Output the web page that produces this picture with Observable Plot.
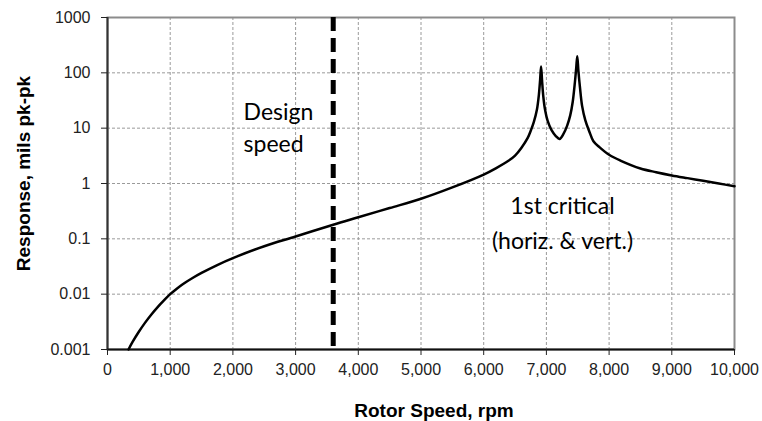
<!DOCTYPE html>
<html>
<head>
<meta charset="utf-8">
<script src="https://cdn.jsdelivr.net/npm/d3@7"></script>
<script src="https://cdn.jsdelivr.net/npm/@observablehq/plot@0.6"></script>
<style>
  html, body { margin: 0; padding: 0; background: #fff; }
  #chart { width: 762px; height: 421px; }
</style>
</head>
<body>
<div id="chart"></div>
<script>
// Rotor speed (rpm) and response (mils pk-pk)
const rpm = [335, 400, 500, 600, 700, 800, 900, 1000, 1100, 1200, 1350, 1500, 1750, 2000, 2500, 3000, 3600, 4000, 4500, 5000, 5500, 6000, 6200, 6400, 6500, 6600, 6700, 6750, 6800, 6850, 6880, 6900, 6915, 6930, 6950, 6980, 7020, 7080, 7150, 7210, 7270, 7330, 7380, 7420, 7450, 7475, 7492, 7510, 7535, 7570, 7620, 7680, 7750, 7850, 8000, 8180, 8500, 8750, 9000, 9250, 9500, 9750, 10000];
const response = [0.001, 0.00137, 0.00209, 0.00306, 0.0043, 0.00585, 0.0077, 0.01, 0.01245, 0.01514, 0.0194, 0.0242, 0.0336, 0.0448, 0.0735, 0.11, 0.18, 0.245, 0.36, 0.53, 0.85, 1.45, 1.9, 2.6, 3.2, 4.4, 6.6, 9.0, 13, 22, 40, 75, 130, 75, 38, 21, 13.5, 9.3, 7.2, 6.4, 7.8, 11, 17, 30, 60, 120, 200, 110, 55, 25, 14, 9, 5.8, 4.5, 3.3, 2.6, 1.87, 1.6, 1.4, 1.25, 1.12, 1.0, 0.89];

const xTicks = [0, 1000, 2000, 3000, 4000, 5000, 6000, 7000, 8000, 9000, 10000];
const yTicks = [0.001, 0.01, 0.1, 1, 10, 100, 1000];
const designSpeed = [3600];

const noteLeftText = ["Design\nspeed"];
const noteLeftRpm = [2170];
const noteLeftResp = [11];
const noteMidText = ["1st critical\n(horiz. & vert.)"];
const noteMidRpm = [7257];
const noteMidResp = [0.215];

const xLabel = "Rotor Speed, rpm";
const yLabel = "Response, mils pk-pk";

const chart = Plot.plot({
  width: 762,
  height: 421,
  marginLeft: 107,
  marginRight: 28,
  marginTop: 17,
  marginBottom: 72,
  style: { fontFamily: "'Liberation Sans', Arial, sans-serif", fontSize: "16px", color: "#222", background: "#fff" },
  x: { domain: [0, 10000] },
  y: { type: "log", domain: [0.001, 1000] },
  marks: [
    Plot.gridX(xTicks, { stroke: "#9a9a9a", strokeOpacity: 1, strokeDasharray: "3,2" }),
    Plot.gridY(yTicks, { stroke: "#9a9a9a", strokeOpacity: 1, strokeDasharray: "3,2" }),
    Plot.frame({ stroke: "#8c8c8c", strokeWidth: 2 }),
    Plot.ruleX([0], { stroke: "#333", strokeWidth: 2 }),
    Plot.ruleY([0.001], { stroke: "#111", strokeWidth: 2 }),
    Plot.axisX(xTicks, { tickFormat: d3.format(","), tickSize: 6, tickPadding: 8, label: null, stroke: "#222", fontSize: 16 }),
    Plot.axisY(yTicks, { tickFormat: d => String(d), tickSize: 6, tickPadding: 11, label: null, stroke: "#222", fontSize: 16 }),
    Plot.ruleX(designSpeed, { stroke: "#000", strokeWidth: 5, strokeDasharray: "14,7" }),
    Plot.line(rpm, { x: rpm, y: response, stroke: "#000", strokeWidth: 2.5, curve: "catmull-rom" }),
    Plot.text(noteLeftText, { x: noteLeftRpm, y: noteLeftResp, text: d => d, textAnchor: "start", fontFamily: "Lato, 'Open Sans', sans-serif", fontSize: 23, lineHeight: 1.4, fill: "#000" }),
    Plot.text(noteMidText, { x: noteMidRpm, y: noteMidResp, text: d => d, textAnchor: "middle", fontFamily: "Lato, 'Open Sans', sans-serif", fontSize: 23, lineHeight: 1.5, fill: "#000" }),
    Plot.text([xLabel], { frameAnchor: "bottom", lineAnchor: "middle", text: d => d, dy: 61, dx: 13, fontWeight: "bold", fontSize: 19, fill: "#000" }),
    Plot.text([yLabel], { frameAnchor: "left", textAnchor: "middle", text: d => d, rotate: -90, dx: -84, dy: -10, fontWeight: "bold", fontSize: 19, fill: "#000" })
  ]
});
document.getElementById("chart").appendChild(chart);
</script>
</body>
</html>
